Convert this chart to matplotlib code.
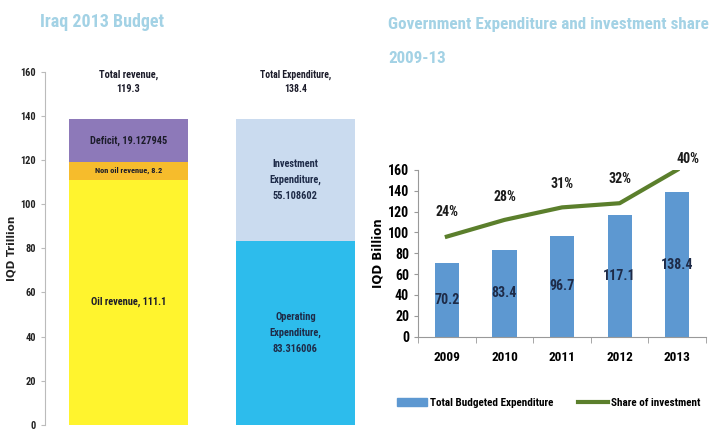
import numpy as np
import matplotlib.pyplot as plt
from matplotlib import font_manager
from matplotlib.patches import Patch
from matplotlib.lines import Line2D

# narrow font if one is installed, else Liberation Sans
fonts = font_manager.fontManager.ttflist
names = {f.name for f in fonts}
narrow = None
for cand in ["Liberation Sans Narrow", "Roboto Condensed", "Open Sans Condensed"]:
    if cand in names:
        narrow = cand
        break
if narrow is None:
    if any(f.name == "DejaVu Sans" and "condensed" in str(f.stretch) for f in fonts):
        narrow = "DejaVu Sans"
        plt.rcParams["font.stretch"] = "condensed"
    else:
        narrow = "Liberation Sans"
plt.rcParams["font.family"] = [narrow, "DejaVu Sans"]

# left chart: Iraq 2013 budget (IQD trillion)
oil_revenue = 111.1
non_oil_revenue = 8.2
deficit = 19.127945
total_revenue = 119.3
operating_exp = 83.316006
investment_exp = 55.108602
total_exp = 138.4

# right chart: expenditure 2009-13
years = ["2009", "2010", "2011", "2012", "2013"]
total_budget = [70.2, 83.4, 96.7, 117.1, 138.4]
invest_share = [24, 28, 31, 32, 40]

title_col = "#A3D2E5"
fig = plt.figure(figsize=(7.11, 4.30), dpi=100)

# ---------- left ----------
ax1 = fig.add_axes([0.063, 0.012, 0.470, 0.821])
w = 0.71
ax1.bar(0, oil_revenue, w, color="#FFF42E")
ax1.bar(0, non_oil_revenue, w, bottom=oil_revenue, color="#F6BC2C")
ax1.bar(0, deficit, w, bottom=oil_revenue + non_oil_revenue, color="#8D79B9")
ax1.bar(1, operating_exp, w, color="#2DBCEC")
ax1.bar(1, investment_exp, w, bottom=operating_exp, color="#CADBEF")

tc = "#1C1C2A"
bc = "#1E2B48"
ax1.text(0, oil_revenue / 2, "Oil revenue, %.1f" % oil_revenue, ha="center", va="center",
         fontsize=7.5, color=tc, fontweight="bold")
ax1.text(0, oil_revenue + non_oil_revenue / 2, "Non oil revenue, %.1f" % non_oil_revenue,
         ha="center", va="center", fontsize=6, color=tc, fontweight="bold")
ax1.text(0, oil_revenue + non_oil_revenue + deficit / 2, "Deficit, %.6f" % deficit,
         ha="center", va="center", fontsize=7.5, color=tc, fontweight="bold")
ax1.text(1, operating_exp / 2, "Operating\nExpenditure,\n%.6f" % operating_exp,
         ha="center", va="center", fontsize=7.5, color=bc, fontweight="bold",
         linespacing=1.75)
ax1.text(1, operating_exp + investment_exp / 2, "Investment\nExpenditure,\n%.6f" % investment_exp,
         ha="center", va="center", fontsize=7.5, color=bc, fontweight="bold",
         linespacing=1.75)
ax1.text(0, 155.5, "Total revenue,\n%.1f" % total_revenue, ha="center", va="center",
         fontsize=7.5, color=tc, fontweight="bold", linespacing=1.5)
ax1.text(1, 155.5, "Total Expenditure,\n%.1f" % total_exp, ha="center", va="center",
         fontsize=7, color=tc, fontweight="bold", linespacing=1.5)

ax1.set_xlim(-0.5, 1.5)
ax1.set_ylim(0, 160)
ax1.set_yticks(np.arange(0, 161, 20))
ax1.set_xticks([])
for s in ["top", "right", "bottom"]:
    ax1.spines[s].set_visible(False)
ax1.spines["left"].set_color("#BBBBBB")
ax1.tick_params(axis="y", colors="#BBBBBB", labelcolor="#222222", labelsize=7.5, length=3)
for lab in ax1.get_yticklabels():
    lab.set_fontweight("bold")
ax1.set_ylabel("IQD Trillion", fontsize=7.5, fontweight="bold", family="DejaVu Sans",
               color="#222222")
ax1.yaxis.set_label_coords(-0.085, 0.5)
fig.text(0.056, 0.949, "Iraq 2013 Budget", fontsize=13, fontweight="bold", color=title_col,
         va="center")

# ---------- right ----------
ax2 = fig.add_axes([0.588, 0.217, 0.405, 0.388])
x = np.arange(len(years))
ax2.bar(x, total_budget, 0.42, color="#5D98D1")
for xi, v in zip(x, total_budget):
    ax2.text(xi, v / 2, "%.1f" % v, ha="center", va="center", fontsize=10,
             fontweight="bold", color=bc)
ax2.set_xlim(-0.5, 4.5)
ax2.set_ylim(0, 160)
ax2.set_yticks(np.arange(0, 161, 20))
ax2.set_xticks(x)
ax2.set_xticklabels(years)
ax2.set_xticks(np.arange(-0.5, 4.6, 1), minor=True)
ax2.tick_params(axis="x", which="major", length=0, pad=10, labelsize=9.5)
ax2.tick_params(axis="x", which="minor", length=4, color="#999999")
ax2.tick_params(axis="y", length=3, color="#999999", labelsize=10)
for lab in ax2.get_xticklabels() + ax2.get_yticklabels():
    lab.set_fontweight("bold")
for s in ["top", "right"]:
    ax2.spines[s].set_visible(False)
ax2.spines["left"].set_color("#999999")
ax2.spines["bottom"].set_color("#999999")
ax2.set_ylabel("IQD Billion", fontsize=8.5, fontweight="bold", family="DejaVu Sans")
ax2.yaxis.set_label_coords(-0.115, 0.5)

ax3 = ax2.twinx()
ax3.plot(x, invest_share, color="#5B7F2C", lw=3)
ax3.set_ylim(0, 40)
ax3.axis("off")
offs = [(0, 5.8), (0, 5.4), (0, 5.6), (0, 5.8), (0.18, 2.6)]
for xi, v, (dx, dy) in zip(x, invest_share, offs):
    ax3.text(xi + dx, v + dy, "%d%%" % v, ha="center", va="center", fontsize=10,
             fontweight="bold", color="#1C1C1C")

handles = [Patch(color="#5D98D1"), Line2D([], [], color="#5B7F2C", lw=3)]
fig.legend(handles, ["Total Budgeted Expenditure", "Share of investment"],
           loc="center", bbox_to_anchor=(0.772, 0.063), ncol=2, frameon=False,
           prop={"weight": "bold", "size": 8}, handlelength=2.7, columnspacing=2.2,
           handletextpad=0.3)

fig.text(0.546, 0.942, "Government Expenditure and investment share",
         fontsize=12.3, fontweight="bold", color=title_col, va="center")
fig.text(0.546, 0.865, "2009-13",
         fontsize=12.3, fontweight="bold", color=title_col, va="center")

fig.savefig("out.png", dpi=100)
